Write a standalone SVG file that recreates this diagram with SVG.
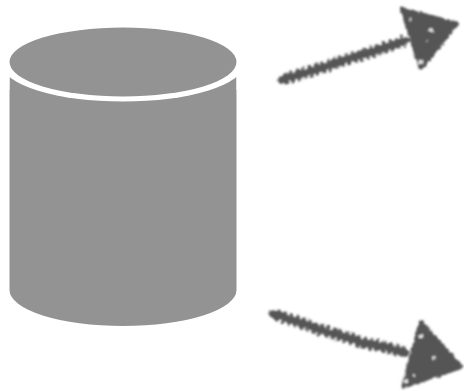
<svg xmlns="http://www.w3.org/2000/svg" width="464" height="391" viewBox="0 0 464 391">
<defs>
<filter id="sketch" x="-10%" y="-20%" width="120%" height="140%">
<feTurbulence type="fractalNoise" baseFrequency="0.25" numOctaves="2" seed="4" result="n"/>
<feDisplacementMap in="SourceGraphic" in2="n" scale="4" xChannelSelector="R" yChannelSelector="G"/>
<feGaussianBlur stdDeviation="0.8"/>
</filter>
<filter id="soft"><feGaussianBlur stdDeviation="0.5"/></filter>
</defs>
<style>
.body{fill:#939393}
.ink{fill:#555;stroke:#555;stroke-width:5;stroke-linejoin:round}
.shaft{fill:none;stroke:#555;stroke-width:7.500;stroke-linecap:round;stroke-linejoin:round}
.teeth{fill:none;stroke:#555;stroke-width:12;stroke-dasharray:3.500 3}
.fleck{fill:#e4e4e4}
</style>
<rect width="464" height="391" fill="#fff"/>
<g id="cylinder" filter="url(#soft)">
<path class="body" d="M9.500 60H236.500V290A113.500 36 0 0 1 9.500 290Z"/>
<ellipse cx="123" cy="64" rx="121" ry="37.500" fill="#fff"/>
<rect x="0" y="20" width="9.500" height="70" fill="#fff"/>
<rect x="236.500" y="20" width="12" height="70" fill="#fff"/>
<ellipse class="body" cx="123" cy="62" rx="113.500" ry="34.500"/>
</g>
<g id="connectors">
<g id="arrow-top" filter="url(#sketch)">
<path class="shaft" d="M281 80L300 74L322 68L345 60L368 53L390 46L406 40"/>
<path class="teeth" d="M284 79L300 74L322 68L345 60L368 53L390 46L404 41"/>
<path class="ink" d="M403 10L456 24L421 67Z"/>
<circle class="fleck" cx="431" cy="30" r="2"/><circle class="fleck" cx="421" cy="62" r="2.400"/><circle class="fleck" cx="410" cy="20" r="1.400"/><circle class="fleck" cx="427" cy="41" r="1"/>
</g>
<g id="arrow-bottom" filter="url(#sketch)">
<path class="shaft" d="M273 314L295 321L318 329L342 336L365 343L390 348L406 353"/>
<path class="teeth" d="M276 315L295 321L318 329L342 336L365 343L390 348L404 352"/>
<path class="ink" d="M421 323L460 367L404 386Z"/>
<circle class="fleck" cx="421" cy="336" r="2.200"/><circle class="fleck" cx="434" cy="358" r="2"/><circle class="fleck" cx="406" cy="381" r="2.200"/><circle class="fleck" cx="414" cy="376" r="1.200"/>
</g>
</g>
</svg>
